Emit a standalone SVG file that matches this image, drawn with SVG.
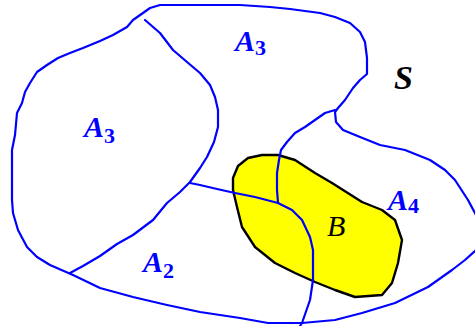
<svg xmlns="http://www.w3.org/2000/svg" width="475" height="326" viewBox="0 0 475 326">
<style>
.ln{fill:none;stroke:#0000FF;stroke-width:2.2;stroke-linejoin:round;stroke-linecap:round}
.blob{fill:#FFFF00;stroke:#000000;stroke-width:2.4;stroke-linejoin:round}
.lbl{font-family:"Liberation Serif","Times New Roman",serif;font-weight:bold;font-style:italic;fill:#0000FF;font-size:30px}
.sub{font-size:22px;font-style:normal}
.blk{font-family:"Liberation Serif","Times New Roman",serif;font-style:italic;fill:#000000}
</style>
<rect width="475" height="326" fill="#FFFFFF"/>
<g id="B">
<path class="blob" d="M262,155 L278,155 L295,160 L315,173 L332,183 L362,202 L382,210 L395,220 L402,240 L398,263 L392,283 L382,295 L355,297 L335,290 L315,282 L295,273 L275,263 L255,247 L242,227 L237,207 L233,190 L233,178 L238,166 L248,158 Z"/>
</g>
<g id="connectors">
<path id="S-boundary" class="ln" d="M160,5 L200,5 L240,5 L270,7 L290,9 L320,13 L335,17 L350,23 L360,32 L365,42 L367,58 L367,74 L360,80 L353,88 L345,100 L338,108 L335,112 L336,122 L343,130 L360,137 L380,145 L405,150 L430,160 L445,170 L455,180 L468,200 L476,215 L479,232 L476,250 L465,260 L452,270 L428,287 L395,303 L362,313 L335,320 L302,323 L268,323 L240,318 L200,312 L167,305 L133,297 L100,288 L73,275 L50,265 L37,257 L27,247 L18,230 L13,213 L12,200 L12,150 L15,135 L17,113 L22,103 L25,92 L30,83 L37,72 L47,65 L58,58 L70,53 L83,48 L100,41 L113,35 L127,27 L133,20 L143,13 L150,8 Z"/>
<path id="line1" class="ln" d="M145,20 L160,33 L173,50 L187,62 L200,73 L210,85 L215,97 L218,110 L218,127 L214,142 L207,157 L200,168 L190,182 L180,192 L167,203 L153,220 L133,235 L117,244 L100,256 L83,266 L70,273"/>
<path id="line2" class="ln" d="M190,183 L200,185 L217,189 L235,193 L255,197 L278,203 L292,210 L302,220 L310,237 L313,250 L313,280 L310,300 L302,323 L300,326"/>
<path id="line3" class="ln" d="M335,110 L325,113 L315,120 L305,127 L295,133 L287,142 L281,150 L279,160 L277,173 L277,190 L278,203"/>
</g>
<g id="labels">
<text class="lbl" x="235" y="51">A<tspan class="sub" dy="4">3</tspan></text>
<text class="lbl" x="84" y="137">A<tspan class="sub" dy="6">3</tspan></text>
<text class="lbl" x="143" y="272">A<tspan class="sub" dy="6">2</tspan></text>
<text class="lbl" x="388" y="210">A<tspan class="sub" dy="3">4</tspan></text>
<text class="blk" x="327" y="236" font-size="30">B</text>
<text class="blk" x="394" y="89" font-size="34" font-weight="bold">S</text>
</g>
</svg>
